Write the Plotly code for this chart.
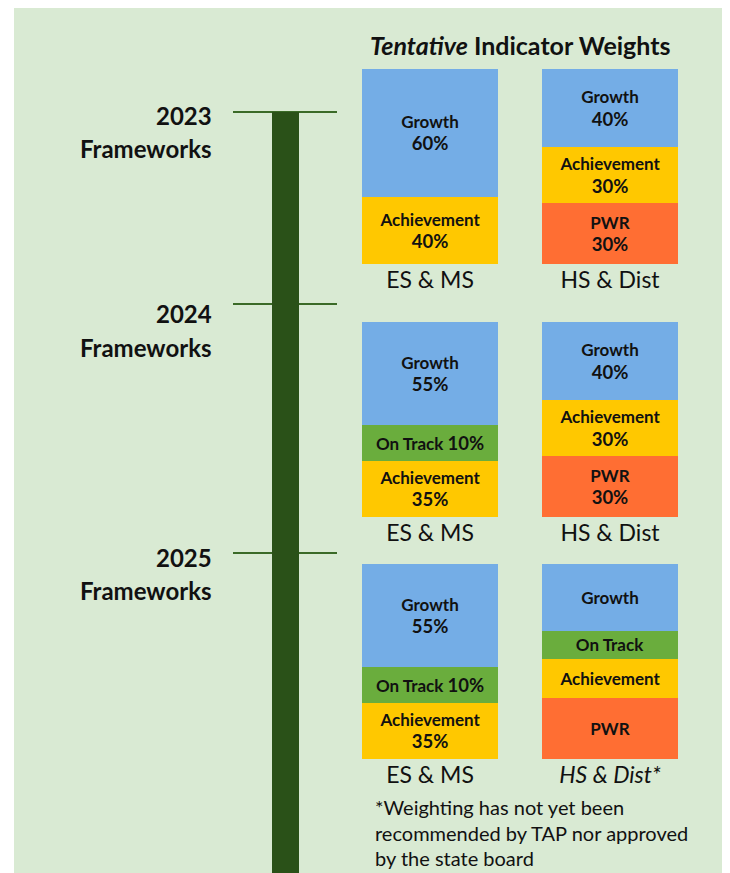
import plotly.graph_objects as go

# ---------------- data ----------------
categories = ["ES & MS", "HS & Dist"]
year_labels = ["2023", "2024", "2025"]
tick_text = [["ES & MS", "HS & Dist"], ["ES & MS", "HS & Dist"], ["ES & MS", "<i>HS & Dist*</i>"]]

# drawn segment heights (share of box) per year: [ES & MS, HS & Dist]
pwr_h = [[None, 31.3], [None, 31.3], [None, 31.3]]
achieve_h = [[34.5, 28.7], [28.8, 28.7], [28.8, 20.0]]
ontrack_h = [[None, None], [18.6, None], [18.6, 14.4]]
growth_h = [[65.5, 40.0], [52.6, 40.0], [52.6, 34.3]]

# segment labels (name, weight)
pwr_lbl = [[None, ("PWR", "30%")], [None, ("PWR", "30%")], [None, ("PWR", "")]]
achieve_lbl = [[("Achievement", "40%"), ("Achievement", "30%")],
               [("Achievement", "35%"), ("Achievement", "30%")],
               [("Achievement", "35%"), ("Achievement", "")]]
ontrack_lbl = [[None, None], [("On Track", "10%"), None], [("On Track", "10%"), ("On Track", "")]]
growth_lbl = [[("Growth", "60%"), ("Growth", "40%")],
              [("Growth", "55%"), ("Growth", "40%")],
              [("Growth", "55%"), ("Growth", "")]]

footnote = ["*Weighting has not yet been", "recommended by TAP nor approved", "by the state board"]

# ---------------- styling ----------------
OFF = 8  # page body margin
W, H = 730 - OFF, 873 - OFF
FONT = "Lato, Carlito, Calibri, sans-serif"
C_BG = "#d9ead3"
C_GROWTH = "#74ade6"
C_ACH = "#ffc800"
C_ONT = "#6aad3d"
C_PWR = "#ff6e33"
C_DARK = "#2a5118"
C_TXT = "#111111"

def px(x):
    return (x - OFF) / W

def py(y):
    return 1 - (y - OFF) / H

def fmt(item, name):
    if item is None:
        return ""
    label, pct = item
    if not pct:
        return label
    pct_html = '<span style="font-size:18.5px">' + pct + "</span>"
    if name == "On Track":
        return label + " " + pct_html
    return label + "<br>" + pct_html

# box pixel extents (top, bottom) per row
rows = [(69, 264), (322, 517), (564, 759)]
x_dom = [px(340), px(700)]

fig = go.Figure()
series = [
    ("PWR", pwr_h, pwr_lbl, C_PWR),
    ("Achievement", achieve_h, achieve_lbl, C_ACH),
    ("On Track", ontrack_h, ontrack_lbl, C_ONT),
    ("Growth", growth_h, growth_lbl, C_GROWTH),
]
for r in range(3):
    suffix = "" if r == 0 else str(r + 1)
    for name, vals, lbls, col in series:
        fig.add_trace(go.Bar(
            x=[0, 1], y=vals[r], text=[fmt(t, name) for t in lbls[r]], name=name,
            marker=dict(color=col, line=dict(width=0)),
            width=0.76, textposition="inside", insidetextanchor="middle",
            textangle=0, constraintext="none",
            textfont=dict(family=FONT, size=17, color=C_TXT, weight="bold"),
            hoverinfo="skip", showlegend=False,
            xaxis="x" + suffix, yaxis="y" + suffix,
        ))

layout_axes = {}
for r, (top, bot) in enumerate(rows):
    suffix = "" if r == 0 else str(r + 1)
    layout_axes["xaxis" + suffix] = dict(
        domain=x_dom, range=[-0.5, 1.5], tickvals=[0, 1], ticktext=tick_text[r],
        showgrid=False, zeroline=False, showline=False, ticks="",
        tickfont=dict(family=FONT, size=23, color=C_TXT), anchor="y" + suffix,
        fixedrange=True,
    )
    layout_axes["yaxis" + suffix] = dict(
        domain=[py(bot), py(top)], range=[0, 100], visible=False,
        anchor="x" + suffix, fixedrange=True,
    )

shapes = [
    dict(type="rect", xref="paper", yref="paper", x0=px(14), x1=1, y0=0, y1=1,
         fillcolor=C_BG, line=dict(width=0), layer="below"),
]
for yy in [112, 304, 553]:
    shapes.append(dict(type="line", xref="paper", yref="paper", x0=px(233), x1=px(337),
                       y0=py(yy), y1=py(yy), line=dict(color="#3b6a27", width=2), layer="below"))
shapes.append(dict(type="rect", xref="paper", yref="paper", x0=px(272), x1=px(299),
                   y0=0, y1=py(112), fillcolor=C_DARK, line=dict(width=0), layer="below"))

annotations = [
    dict(text="<b><i>Tentative</i> Indicator Weights</b>", x=px(520), y=py(45),
         xref="paper", yref="paper", xanchor="center", yanchor="middle", showarrow=False,
         font=dict(family=FONT, size=25, color=C_TXT)),
]
year_y = [(115, 148), (313, 347), (557, 590)]
for lbl, (y1, y2) in zip(year_labels, year_y):
    annotations.append(dict(text="<b>" + lbl + "</b>", x=px(214), y=py(y1), xref="paper", yref="paper",
                            xanchor="right", yanchor="middle", showarrow=False,
                            font=dict(family=FONT, size=24, color=C_TXT)))
    annotations.append(dict(text="<b>Frameworks</b>", x=px(214), y=py(y2), xref="paper", yref="paper",
                            xanchor="right", yanchor="middle", showarrow=False,
                            font=dict(family=FONT, size=24, color=C_TXT)))
for line, yy in zip(footnote, [807, 833, 858]):
    annotations.append(dict(text=line, x=px(373), y=py(yy), xref="paper", yref="paper",
                            xanchor="left", yanchor="middle", showarrow=False,
                            font=dict(family=FONT, size=20, color=C_TXT)))

fig.update_layout(
    width=W, height=H, margin=dict(l=0, r=0, t=0, b=0),
    paper_bgcolor="white", plot_bgcolor="rgba(0,0,0,0)",
    barmode="stack", bargap=0, showlegend=False,
    shapes=shapes, annotations=annotations,
    uniformtext=dict(mode=False),
    **layout_axes,
)

fig.write_html("out.html", config={"displayModeBar": False, "staticPlot": True})
